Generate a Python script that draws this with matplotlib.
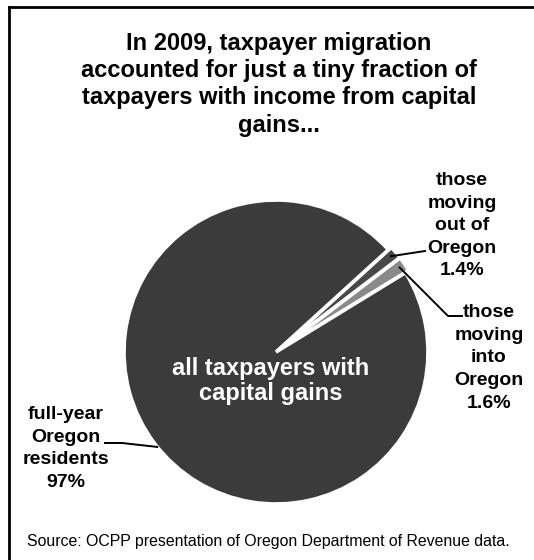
import numpy as np
import matplotlib.pyplot as plt

plt.rcParams['font.family'] = ['Liberation Sans', 'DejaVu Sans']

W, H = 534, 560

# data
slice_names = ["those moving into Oregon", "those moving out of Oregon", "full-year Oregon residents"]
shares = [1.6, 1.4, 97.0]
pct_labels = ["1.6%", "1.4%", "97%"]
colors = ["#8a8a8a", "#484848", "#3b3b3b"]
explode = [0.025, 0.025, 0.0]

title_lines = ["In 2009, taxpayer migration",
               "accounted for just a tiny fraction of",
               "taxpayers with income from capital",
               "gains..."]
center_lines = ["all taxpayers with", "capital gains"]
source = "Source: OCPP presentation of Oregon Department of Revenue data."

fig = plt.figure(figsize=(W / 100, H / 100), dpi=100)

# pie placed by pixel centre / radius
cx, cy, r = 276, 352, 152
ax = fig.add_axes([(cx - r) / W, (H - cy - r) / H, 2 * r / W, 2 * r / H])
wedges, _ = ax.pie(shares, colors=colors, explode=explode, startangle=31.5,
                   counterclock=True, radius=1,
                   wedgeprops=dict(edgecolor="white", linewidth=2.6))
ax.set_xlim(-1, 1)
ax.set_ylim(-1, 1)

# overlay in pixel coords for leaders and frame
ov = fig.add_axes([0, 0, 1, 1], zorder=3)
ov.set_xlim(0, W)
ov.set_ylim(H, 0)
ov.axis('off')


def rim(w, frac=0.5, rr=1.0):
    ang = np.deg2rad(w.theta1 + frac * (w.theta2 - w.theta1))
    x0, y0 = w.center
    p = ax.transData.transform((x0 + rr * np.cos(ang), y0 + rr * np.sin(ang)))
    return ov.transData.inverted().transform(p)


def txt(x, y, s, **kw):
    fig.text(x / W, 1 - y / H, s, ha='center', va='baseline', **kw)


# frame (only top and left visible in the crop)
ov.plot([9, W], [7, 7], color='black', lw=2, clip_on=False)
ov.plot([9, 9], [7, H], color='black', lw=2, clip_on=False)

# title
for i, line in enumerate(title_lines):
    txt(279, 50 + i * 27.2, line, fontsize=17, fontweight='bold')

# centre text
for i, line in enumerate(center_lines):
    txt(271, 375 + i * 25, line, fontsize=17, fontweight='bold', color='white')

# leaders
p_in = rim(wedges[0], 0.5, 0.96)
p_out = rim(wedges[1], 0.5, 0.96)
p_res = rim(wedges[2], 0.505, 1.0)
ov.plot([p_out[0], 425], [p_out[1], 251], color='black', lw=1.4)
ov.plot([p_in[0], 448, 462], [p_in[1], 316, 316], color='black', lw=1.4)
ov.plot([p_res[0], 122, 105], [p_res[1], 443, 443], color='black', lw=1.4)

lab = dict(fontsize=14, fontweight='bold')
for i, line in enumerate(["those", "moving", "out of", "Oregon", pct_labels[1]]):
    txt(462, 185 + i * 22.5, line, **lab)
for i, line in enumerate(["those", "moving", "into", "Oregon", pct_labels[0]]):
    txt(489, 317 + i * 22.7, line, **lab)
for i, line in enumerate(["full-year", "Oregon", "residents", pct_labels[2]]):
    txt(66, 419 + i * 22.7, line, **lab)

txt(268, 546, source, fontsize=11.4)

fig.savefig("out.png", dpi=100)
